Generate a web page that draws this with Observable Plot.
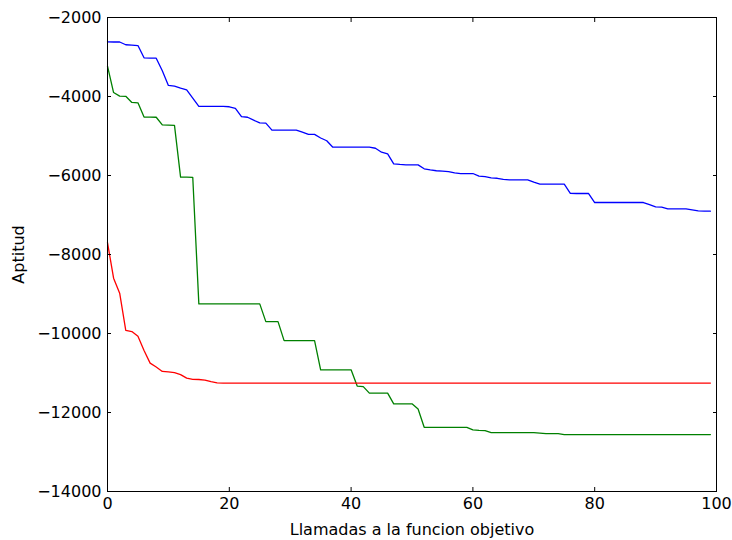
<!DOCTYPE html>
<html>
<head>
<meta charset="utf-8">
<script src="https://cdn.jsdelivr.net/npm/d3@7"></script>
<script src="https://cdn.jsdelivr.net/npm/@observablehq/plot@0.6"></script>
<style>
  html, body { margin: 0; padding: 0; background: #fff; }
  svg { display: block; }
</style>
</head>
<body>
<div id="chart"></div>
<script>
const blue = [
  -2615, -2620, -2620, -2690, -2700, -2710, -3020, -3030, -3030, -3350,
  -3720, -3740, -3790, -3830, -4040, -4250, -4250, -4250, -4250, -4250,
  -4260, -4300, -4510, -4525, -4600, -4670, -4675, -4850, -4850, -4850,
  -4850, -4850, -4900, -4960, -4960, -5050, -5120, -5284, -5284, -5284,
  -5284, -5284, -5284, -5284, -5310, -5410, -5452, -5705, -5720, -5730,
  -5730, -5730, -5830, -5860, -5880, -5890, -5900, -5935, -5950, -5950,
  -5950, -6017, -6030, -6059, -6070, -6100, -6110, -6110, -6110, -6110,
  -6170, -6220, -6220, -6220, -6220, -6220, -6450, -6456, -6456, -6456,
  -6684, -6684, -6684, -6684, -6684, -6684, -6684, -6684, -6684, -6740,
  -6794, -6800, -6844, -6844, -6844, -6844, -6870, -6895, -6904, -6904
];
const green = [
  -3230, -3900, -3990, -3995, -4150, -4160, -4520, -4520, -4525, -4720,
  -4725, -4730, -6040, -6040, -6045, -9250, -9250, -9250, -9250, -9250,
  -9250, -9250, -9250, -9250, -9250, -9250, -9700, -9700, -9700, -10180,
  -10180, -10180, -10180, -10180, -10180, -10920, -10920, -10920, -10920, -10920,
  -10920, -11330, -11345, -11510, -11510, -11510, -11510, -11780, -11780, -11780,
  -11780, -11910, -12375, -12375, -12375, -12375, -12375, -12375, -12375, -12375,
  -12440, -12455, -12460, -12510, -12510, -12510, -12510, -12510, -12510, -12510,
  -12510, -12520, -12535, -12535, -12535, -12560, -12560, -12560, -12560, -12560,
  -12560, -12560, -12560, -12560, -12560, -12560, -12560, -12560, -12560, -12560,
  -12560, -12560, -12560, -12560, -12560, -12560, -12560, -12560, -12560, -12560
];
const red = [
  -7700, -8600, -8980, -9920, -9950, -10070, -10430, -10750, -10850, -10960,
  -10970, -10990, -11040, -11130, -11160, -11165, -11180, -11220, -11250, -11255,
  -11255, -11255, -11255, -11255, -11255, -11255, -11255, -11255, -11255, -11255,
  -11255, -11255, -11255, -11255, -11255, -11255, -11255, -11255, -11255, -11255,
  -11255, -11255, -11255, -11255, -11255, -11255, -11255, -11255, -11255, -11255,
  -11255, -11255, -11255, -11255, -11255, -11255, -11255, -11255, -11255, -11255,
  -11255, -11255, -11255, -11255, -11255, -11255, -11255, -11255, -11255, -11255,
  -11255, -11255, -11255, -11255, -11255, -11255, -11255, -11255, -11255, -11255,
  -11255, -11255, -11255, -11255, -11255, -11255, -11255, -11255, -11255, -11255,
  -11255, -11255, -11255, -11255, -11255, -11255, -11255, -11255, -11255, -11255
];
const seriesNames = ["azul", "verde", "rojo"];
const seriesColors = ["#0000ff", "#008000", "#ff0000"];
const xTicks = [0, 20, 40, 60, 80, 100];
const yTicks = [-2000, -4000, -6000, -8000, -10000, -12000, -14000];
const xLabel = "Llamadas a la funcion objetivo";
const yLabel = "Aptitud";

const rows = [];
[blue, green, red].forEach((arr, s) => {
  arr.forEach((v, i) => rows.push({ serie: seriesNames[s], x: i, y: v }));
});

const fmt = d => (d < 0 ? "\u2212" + Math.abs(d) : String(d));

const chart = Plot.plot({
  width: 732,
  height: 540,
  marginLeft: 107,
  marginRight: 16,
  marginTop: 17,
  marginBottom: 49,
  style: { fontFamily: "DejaVu Sans", fontSize: "16px", color: "#000", background: "#fff" },
  x: { domain: [0, 100] },
  y: { domain: [-14000, -2000] },
  color: { domain: seriesNames, range: seriesColors },
  marks: [
    Plot.line(rows, { x: "x", y: "y", z: "serie", stroke: "serie", strokeWidth: 1.3 }),
    Plot.axisY(yTicks, { anchor: "left", tickSize: -4, tickPadding: 10, tickFormat: fmt,
      label: yLabel, labelAnchor: "center", labelArrow: "none", labelOffset: 95, fontSize: 16 }),
    Plot.axisY(yTicks, { anchor: "right", tickSize: -4, tickFormat: () => "", label: null }),
    Plot.axisX(xTicks, { anchor: "bottom", tickSize: -4, tickPadding: 10, tickFormat: fmt,
      label: xLabel, labelAnchor: "center", labelArrow: "none", labelOffset: 43, fontSize: 16 }),
    Plot.axisX(xTicks, { anchor: "top", tickSize: -4, tickFormat: () => "", label: null }),
    Plot.frame({ stroke: "#000", strokeWidth: 1 })
  ]
});
document.getElementById("chart").appendChild(chart);
</script>
</body>
</html>
